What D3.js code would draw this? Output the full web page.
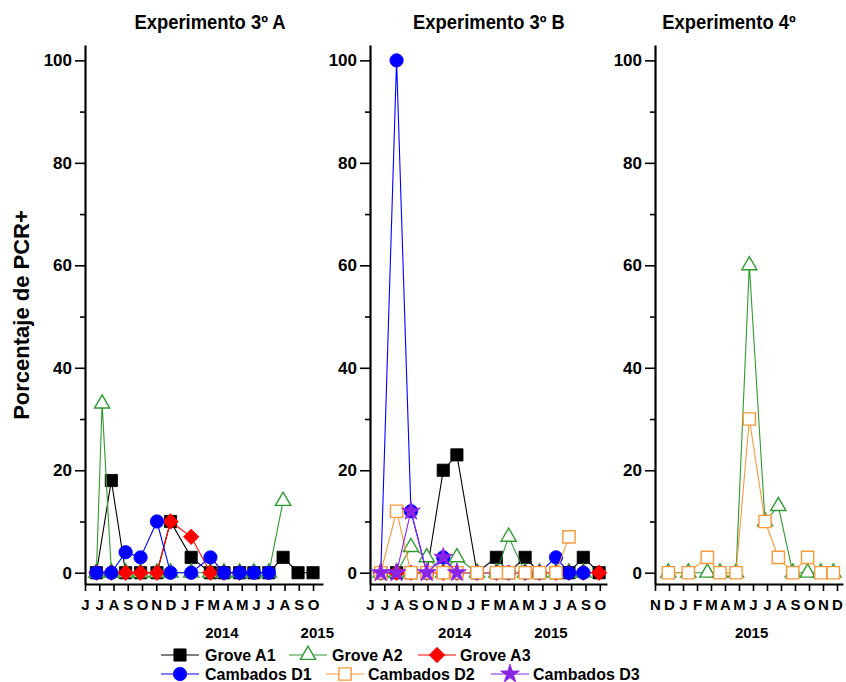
<!DOCTYPE html>
<html>
<head>
<meta charset="utf-8">
<script src="https://cdn.jsdelivr.net/npm/d3@7"></script>
<style>
  body { margin: 0; background: #fff; }
  svg text { font-family: "Liberation Sans", Arial, sans-serif; font-weight: bold; fill: #000; }
</style>
</head>
<body>
<svg id="chart" width="846" height="682"></svg>
<script>
// ---- Sampling dates, as month offsets from the first month on each axis ----
const monthsA = [0.8, 1.2, 1.85, 2.85, 3.9, 5.05, 6.0, 7.45, 8.8, 9.75, 10.85, 11.85, 12.9, 13.9, 14.95, 16.0];
const monthsB = [0.75, 1.85, 2.85, 3.95, 5.1, 6.05, 7.45, 8.8, 9.65, 10.8, 11.8, 12.95, 13.85, 14.85, 15.95];
const monthsC = [0.95, 2.38, 3.74, 4.64, 5.79, 6.74, 7.86, 8.81, 9.84, 10.9, 11.84, 12.74];

// ---- Percentage of PCR+ samples per plot ----
// Experimento 3º A
const groveA1_A = [0, null, 18, 0, 0, 0, 10, 3, 0, 0, 0, 0, 0, 3, 0, 0];
const groveA2_A = [0, 33, 0, 0, 0, 0, 0, 0, 0, 0, 0, 0, 0, 14, null, null];
const groveA3_A = [0, null, 0, 0, 0, 0, 10, 7, 0, 0, 0, null, null, null, null, null];
const cambD1_A  = [0, null, 0, 4, 3, 10, 0, 0, 3, 0, 0, 0, 0, null, null, null];
// Experimento 3º B
const groveA1_B = [0, 0, 0, 0, 20, 23, 0, 3, 0, 3, 0, 0, 0, 3, 0];
const groveA2_B = [0, 0, 5, 3, 0, 3, 0, 0, 7, 0, 0, 0, 0, 0, null];
const groveA3_B = [0, 0, 0, 0, 0, 0, 0, 0, 0, 0, 0, 0, 0, 0, 0];
const cambD1_B  = [0, 100, 12, 0, 3, 0, 0, 0, 0, 0, 0, 3, 0, 0, null];
const cambD2_B  = [0, 12, 0, 0, 0, 0, 0, 0, 0, 0, 0, 0, 7, null, null];
const cambD3_B  = [0, 0, 12, 0, 3, 0, null, null, null, null, null, null, null, null, null];
// Experimento 4º
const groveA2_C = [0, 0, 0, 0, 0, 60, 10, 13, 0, 0, 0, 0];
const cambD2_C  = [0, 0, 3, 0, 0, 30, 10, 3, 0, 3, 0, 0];

// ---- Axis labels ----
const monthLabelsAB = ["J", "J", "A", "S", "O", "N", "D", "J", "F", "M", "A", "M", "J", "J", "A", "S", "O"];
const monthLabelsC  = ["N", "D", "J", "F", "M", "A", "M", "J", "J", "A", "S", "O", "N", "D"];
const yearLabelsA = ["2014", "2015"], yearMonthsA = [9.6, 16.3];
const yearLabelsB = ["2014", "2015"], yearMonthsB = [5.9, 12.6];
const yearLabelsC = ["2015"],         yearMonthsC = [6.9];
const panelTitles = ["Experimento 3º A", "Experimento 3º B", "Experimento 4º"];
const yTicks = [0, 20, 40, 60, 80, 100];
const yMinorTicks = [10, 30, 50, 70, 90];
const seriesNames = ["Grove A1", "Grove A2", "Grove A3", "Cambados D1", "Cambados D2", "Cambados D3"];

// ---- Marker / line styles per series ----
const diamond = {
  draw(ctx, size) {
    const r = Math.sqrt(size / 2);
    ctx.moveTo(0, -r); ctx.lineTo(r, 0); ctx.lineTo(0, r); ctx.lineTo(-r, 0); ctx.closePath();
  }
};
const styles = {
  "Grove A1":    { color: "#000000", type: d3.symbolSquare,   size: 150, hollow: false },
  "Grove A2":    { color: "#2f9a2f", type: d3.symbolTriangle, size: 100, hollow: true  },
  "Grove A3":    { color: "#ff0000", type: diamond,           size: 120, hollow: false },
  "Cambados D1": { color: "#0000ff", type: d3.symbolCircle,   size: 140, hollow: false },
  "Cambados D2": { color: "#f8993a", type: d3.symbolSquare,   size: 150, hollow: true  },
  "Cambados D3": { color: "#8a25e6", type: d3.symbolStar,     size: 110, hollow: false }
};

const svg = d3.select("#chart");
const yAxisTop = 45, xAxisY = 584;
const y = d3.scaleLinear().domain([-2.2, 103]).range([xAxisY, yAxisTop]);

const panels = [
  { title: panelTitles[0], x0: 85,  x1: 323, mMax: 16.7,  months: monthsA, labels: monthLabelsAB,
    years: yearLabelsA, yearPos: yearMonthsA, titleX: 210,
    series: [["Grove A1", groveA1_A], ["Grove A2", groveA2_A], ["Grove A3", groveA3_A], ["Cambados D1", cambD1_A]] },
  { title: panelTitles[1], x0: 370, x1: 607, mMax: 16.5,  months: monthsB, labels: monthLabelsAB,
    years: yearLabelsB, yearPos: yearMonthsB, titleX: 489,
    series: [["Grove A1", groveA1_B], ["Grove A2", groveA2_B], ["Grove A3", groveA3_B],
             ["Cambados D1", cambD1_B], ["Cambados D2", cambD2_B], ["Cambados D3", cambD3_B]] },
  { title: panelTitles[2], x0: 655, x1: 843, mMax: 13.43, months: monthsC, labels: monthLabelsC,
    years: yearLabelsC, yearPos: yearMonthsC, titleX: 729,
    series: [["Grove A2", groveA2_C], ["Cambados D2", cambD2_C]] }
];

function drawMarker(g, name, cx, cy) {
  const s = styles[name];
  g.append("path")
    .attr("d", d3.symbol().type(s.type).size(s.size)())
    .attr("transform", `translate(${cx},${cy})`)
    .attr("fill", s.hollow ? "#fff" : s.color)
    .attr("stroke", s.color)
    .attr("stroke-width", s.hollow ? 1.4 : 0.8);
}

panels.forEach(p => {
  const x = d3.scaleLinear().domain([0, p.mMax]).range([p.x0, p.x1]);
  const g = svg.append("g");

  // title, set in a condensed width
  g.append("text")
    .attr("transform", `translate(${p.titleX},29) scale(0.92,1)`)
    .attr("text-anchor", "middle").style("font-size", "20px")
    .text(p.title);

  // x axis: one tick per month
  const xa = g.append("g").attr("transform", `translate(0,${xAxisY})`)
    .call(d3.axisBottom(x)
      .tickValues(d3.range(p.labels.length))
      .tickFormat(i => p.labels[i])
      .tickSize(7).tickPadding(8).tickSizeOuter(0));
  xa.select(".domain").attr("stroke-width", 2.2);
  xa.selectAll(".tick line").attr("stroke-width", 1.6);
  xa.selectAll(".tick text").style("font-size", "15px").style("font-family", "Liberation Sans, Arial, sans-serif").style("font-weight", "bold");

  // year captions under the month letters
  g.selectAll("text.year").data(p.years).join("text")
    .attr("class", "year")
    .attr("x", (d, i) => x(p.yearPos[i])).attr("y", 638)
    .attr("text-anchor", "middle").style("font-size", "15px")
    .text(d => d);

  // y axis: labelled ticks every 20, short ticks in between
  const ya = g.append("g").attr("transform", `translate(${p.x0},0)`)
    .call(d3.axisLeft(y).tickValues(yTicks).tickSize(10).tickPadding(3).tickSizeOuter(0));
  ya.select(".domain").attr("stroke-width", 2.2);
  ya.selectAll(".tick line").attr("stroke-width", 1.6);
  ya.selectAll(".tick text").style("font-size", "17px").style("font-family", "Liberation Sans, Arial, sans-serif").style("font-weight", "bold");
  const ym = g.append("g").attr("transform", `translate(${p.x0},0)`)
    .call(d3.axisLeft(y).tickValues(yMinorTicks).tickSize(5).tickFormat(""));
  ym.select(".domain").remove();
  ym.selectAll(".tick line").attr("stroke-width", 1.6);

  // series: connecting lines, then markers
  p.series.forEach(([name, vals]) => {
    const pts = p.months.map((m, i) => [m, vals[i]]).filter(d => d[1] !== null && d[1] !== undefined);
    const line = d3.line().x(d => x(d[0])).y(d => y(d[1]));
    g.append("path").datum(pts)
      .attr("d", line)
      .attr("fill", "none")
      .attr("stroke", styles[name].color)
      .attr("stroke-width", 1.1);
    pts.forEach(d => drawMarker(g, name, x(d[0]), y(d[1])));
  });
});

// shared y-axis title
svg.append("text")
  .attr("transform", "translate(29,315) rotate(-90)")
  .attr("text-anchor", "middle").style("font-size", "22px")
  .text("Porcentaje de PCR+");

// legend: two rows of three entries
const legendPos = [
  [161, 655, 205], [289, 655, 332], [418, 655, 460],
  [161, 674, 205], [326, 674, 368], [491, 674, 533]
];
seriesNames.forEach((name, i) => {
  const [lx, ly, tx] = legendPos[i];
  const lg = svg.append("g");
  lg.append("line").attr("x1", lx).attr("x2", lx + 38).attr("y1", ly).attr("y2", ly)
    .attr("stroke", styles[name].color).attr("stroke-width", 1.2);
  drawMarker(lg, name, lx + 19, ly);
  lg.append("text").attr("x", tx).attr("y", ly + 6).style("font-size", "16px").text(name);
});
</script>
</body>
</html>
